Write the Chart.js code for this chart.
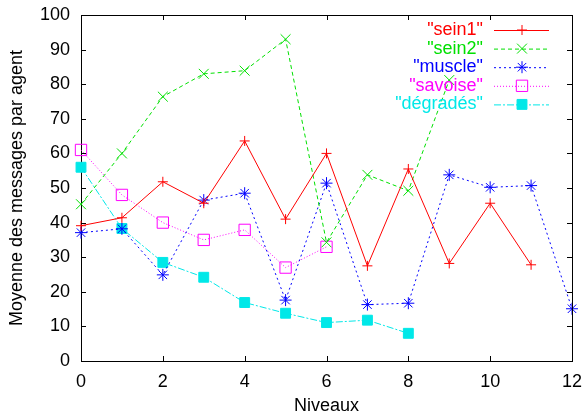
<!DOCTYPE html>
<html>
<head>
<meta charset="utf-8">
<script src="https://cdn.jsdelivr.net/npm/chart.js@4/dist/chart.umd.min.js"></script>
<style>
  body { margin: 0; background: #fff; }
  canvas { display: block; }
</style>
</head>
<body>
<canvas id="chart" width="586" height="417"></canvas>
<script>
const niveaux = [0, 1, 2, 3, 4, 5, 6, 7, 8, 9, 10, 11, 12];
const sein1 = [39.1, 41.4, 51.8, 45.6, 63.6, 41.0, 60.0, 27.5, 55.5, 28.2, 45.6, 27.8];
const sein2 = [45.3, 60.0, 76.4, 83.0, 83.9, 93.0, 34.3, 53.8, 49.2, 81.2];
const muscle = [37.1, 38.2, 24.9, 46.5, 48.5, 17.6, 51.4, 16.3, 16.7, 53.8, 50.2, 50.7, 15.1];
const savoise = [61.0, 48.0, 40.0, 35.0, 37.9, 27.0, 33.0];
const degrades = [56.0, 38.3, 28.5, 24.2, 16.9, 13.8, 11.1, 11.8, 8.0];

const FONT = '"Liberation Sans", Arial, sans-serif';

const pts = (vals) => vals.map((v, i) => ({x: niveaux[i], y: v}));

const series = [
    {label: '"sein1"', data: sein1, color: '#ff0000', dash: [], style: 'cross', r: 5, fill: false},
    {label: '"sein2"', data: sein2, color: '#00e000', dash: [4, 3], style: 'crossRot', r: 7, fill: false},
    {label: '"muscle"', data: muscle, color: '#0000ff', dash: [2, 3], style: 'star', r: 6, fill: false},
    {label: '"savoise"', data: savoise, color: '#ff00ff', dash: [1, 2], style: 'rect', r: 8, fill: false},
    {label: '"dégradés"', data: degrades, color: '#00e8e8', dash: [7, 2, 2, 2], style: 'rect', r: 7, fill: true}
];

function marker(ctx, s, x, y) {
    ctx.save();
    ctx.setLineDash([]);
    ctx.strokeStyle = s.color;
    ctx.fillStyle = s.color;
    ctx.lineWidth = 1;
    ctx.beginPath();
    const r = s.r;
    if (s.style === 'cross') {
        ctx.moveTo(x - r, y); ctx.lineTo(x + r, y);
        ctx.moveTo(x, y - r); ctx.lineTo(x, y + r);
    } else if (s.style === 'crossRot') {
        const o = r * Math.SQRT1_2;
        ctx.moveTo(x - o, y - o); ctx.lineTo(x + o, y + o);
        ctx.moveTo(x - o, y + o); ctx.lineTo(x + o, y - o);
    } else if (s.style === 'star') {
        const o = r * Math.SQRT1_2;
        ctx.moveTo(x - r, y); ctx.lineTo(x + r, y);
        ctx.moveTo(x, y - r); ctx.lineTo(x, y + r);
        ctx.moveTo(x - o, y - o); ctx.lineTo(x + o, y + o);
        ctx.moveTo(x - o, y + o); ctx.lineTo(x + o, y - o);
    } else {
        const h = r * Math.SQRT1_2;
        ctx.rect(x - h, y - h, 2 * h, 2 * h);
        if (s.fill) ctx.fill();
    }
    ctx.stroke();
    ctx.restore();
}

const frame = {
    id: 'frame',
    afterDraw(chart) {
        const ctx = chart.ctx, a = chart.chartArea;
        const xs = chart.scales.x, ys = chart.scales.y;
        ctx.save();
        ctx.strokeStyle = '#000';
        ctx.lineWidth = 1;
        ctx.beginPath();
        ctx.moveTo(a.left, a.top + 0.5); ctx.lineTo(a.right, a.top + 0.5);
        ctx.moveTo(a.right + 0.5, a.top); ctx.lineTo(a.right + 0.5, a.bottom);
        xs.ticks.forEach(t => {
            const px = Math.round(xs.getPixelForValue(t.value)) + 0.5;
            ctx.moveTo(px, a.bottom); ctx.lineTo(px, a.bottom - 5);
            ctx.moveTo(px, a.top); ctx.lineTo(px, a.top + 5);
        });
        ys.ticks.forEach(t => {
            const py = Math.round(ys.getPixelForValue(t.value)) + 0.5;
            ctx.moveTo(a.left, py); ctx.lineTo(a.left + 5, py);
            ctx.moveTo(a.right, py); ctx.lineTo(a.right - 5, py);
        });
        ctx.stroke();

        // key, top right
        ctx.font = '18px ' + FONT;
        ctx.textAlign = 'right';
        ctx.textBaseline = 'middle';
        series.forEach((s, i) => {
            const y = 30 + i * 18.6;
            ctx.fillStyle = s.color;
            ctx.fillText(s.label, 483, y);
            ctx.strokeStyle = s.color;
            ctx.setLineDash(s.dash);
            ctx.beginPath();
            ctx.moveTo(494, y + 0.5); ctx.lineTo(549, y + 0.5);
            ctx.stroke();
            marker(ctx, s, 522, y);
        });
        ctx.restore();
    }
};

const noPad = (s) => { s.paddingLeft = 0; s.paddingRight = 0; s.paddingTop = 0; s.paddingBottom = 0; };

new Chart(document.getElementById('chart'), {
    type: 'line',
    data: {
        datasets: series.map(s => ({
            label: s.label,
            data: pts(s.data),
            borderColor: s.color,
            backgroundColor: s.fill ? s.color : 'rgba(0,0,0,0)',
            borderWidth: 1,
            borderDash: s.dash,
            pointStyle: s.style,
            pointRadius: s.r,
            pointBorderWidth: 1,
            pointBorderColor: s.color,
            pointBackgroundColor: s.fill ? s.color : 'rgba(0,0,0,0)',
            tension: 0,
            clip: false
        }))
    },
    options: {
        responsive: false,
        animation: false,
        layout: {padding: {top: 15, right: 14, left: 0, bottom: 0}},
        plugins: {legend: {display: false}, tooltip: {enabled: false}},
        scales: {
            x: {
                type: 'linear', min: 0, max: 12,
                afterFit: (s) => { s.height = 56; noPad(s); },
                grid: {drawOnChartArea: false, drawTicks: false},
                border: {color: '#000', width: 1},
                ticks: {stepSize: 2, padding: 10, color: '#000', font: {family: FONT, size: 18}},
                title: {display: true, text: 'Niveaux', color: '#000', font: {family: FONT, size: 18}, padding: {top: 4, bottom: 0}}
            },
            y: {
                min: 0, max: 100,
                afterFit: (s) => { s.width = 81; noPad(s); },
                grid: {drawOnChartArea: false, drawTicks: false},
                border: {color: '#000', width: 1},
                ticks: {stepSize: 10, autoSkip: false, padding: 11, color: '#000', font: {family: FONT, size: 18}},
                title: {display: true, text: 'Moyenne des messages par agent', color: '#000', font: {family: FONT, size: 18}, padding: {top: 6, bottom: 4}}
            }
        }
    },
    plugins: [frame]
});
</script>
</body>
</html>
